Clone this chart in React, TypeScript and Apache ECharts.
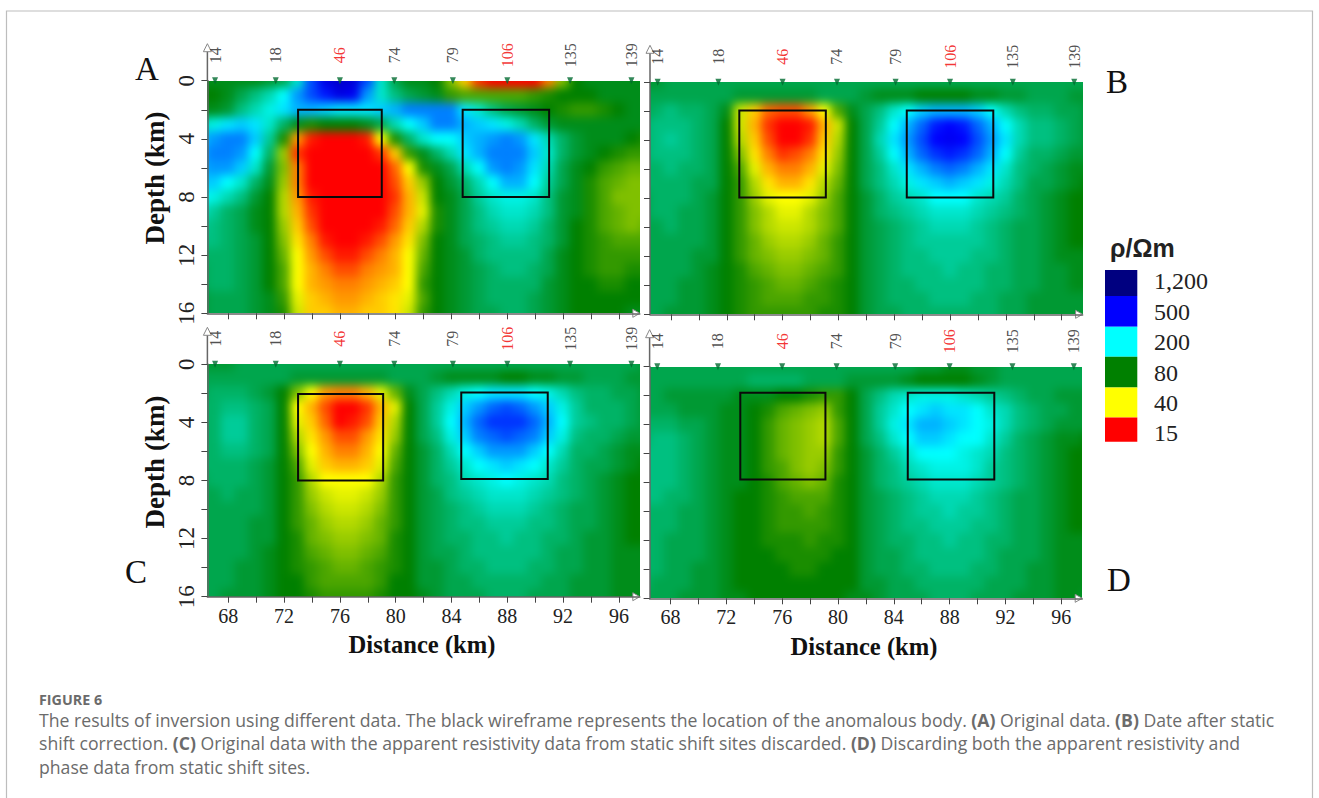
import React, { useEffect, useRef } from "react";
import * as echarts from "echarts";

const distances = [66,67,68,69,70,71,72,73,74,75,76,77,78,79,80,81,82,83,84,85,86,87,88,89,90,91,92,93,94,95,96,97,98];
const depths = [0,1,2,3,4,5,6,7,8,9,10,11,12,13,14,15,16];

// Position on the colour scale x10: 0 = 15, 10 = 40, 20 = 80, 30 = 200, 40 = 500, 50 = 1,200 ohm-m
const fieldA = [
[21,21,21,21,21,22,23,28,37,42,44,43,37,28,23,21,21,20,15,8,2,0,0,0,0,5,15,20,21,21,21,21,21],
[20,20,21,23,25,27,30,34,37,39,42,41,34,28,25,23,22,21,18,17,17,17,17,17,18,19,20,20,20,21,21,21,21],
[21,21,22,25,27,29,31,33,33,32,31,31,31,32,33,35,35,35,35,31,28,25,23,22,21,20,19,18,18,19,20,21,21],
[27,29,31,32,31,28,24,21,19,20,20,20,21,23,27,30,32,35,35,33,32,31,29,27,24,22,21,21,21,21,21,21,21],
[32,34,35,35,32,26,19,6,1,0,0,0,1,10,19,24,28,30,30,32,33,34,35,34,31,27,24,22,21,21,21,20,19],
[33,35,35,34,30,24,14,2,0,0,0,0,0,2,8,18,21,24,27,31,33,35,35,35,32,28,24,22,21,20,19,18,18],
[33,34,34,32,28,22,15,5,0,0,0,0,0,0,4,10,19,21,23,27,30,34,35,34,31,27,23,21,20,18,17,16,16],
[32,32,30,28,24,21,14,5,0,0,0,0,0,0,3,8,14,20,22,24,27,30,33,33,30,26,23,21,19,17,16,15,15],
[30,29,27,25,22,20,13,6,1,0,0,0,0,0,2,7,12,20,21,23,26,28,29,29,28,25,22,21,19,17,15,15,15],
[28,26,24,23,21,20,13,7,2,0,0,0,0,0,3,7,11,19,21,23,25,27,28,28,27,25,22,21,19,17,16,15,15],
[26,25,24,23,21,20,14,8,3,0,0,0,0,1,4,8,13,19,21,23,25,26,27,27,26,24,22,20,19,17,16,15,16],
[25,25,24,23,22,20,15,9,5,1,0,0,1,3,6,9,15,20,21,23,24,25,26,26,25,24,22,20,19,18,17,17,17],
[24,24,24,23,22,20,16,10,6,3,1,1,3,5,7,10,16,20,21,22,24,25,25,25,25,23,21,20,19,18,18,18,18],
[23,24,24,23,22,20,17,10,7,5,3,3,5,6,7,10,17,20,21,22,23,24,25,25,24,23,21,20,19,18,18,19,19],
[23,24,24,23,22,20,17,10,7,6,5,5,6,7,8,10,18,20,21,22,23,24,24,24,24,22,21,20,20,19,19,20,20],
[22,23,23,23,22,21,18,11,8,7,6,6,7,8,9,11,17,20,21,22,23,24,24,24,23,22,21,20,20,20,20,20,20],
[22,23,23,23,22,21,19,12,8,8,7,7,8,8,9,12,18,20,21,22,23,23,24,24,23,22,21,20,20,20,20,21,21],
];
const fieldB = [
[22,22,23,23,23,23,23,23,23,23,23,23,23,23,23,23,23,23,23,23,23,23,23,23,23,23,23,23,23,23,23,23,23],
[23,23,23,23,23,23,23,22,22,22,22,22,22,23,23,23,22,21,21,21,20,20,20,20,21,21,22,22,23,23,23,22,22],
[23,24,25,24,24,23,21,12,8,4,3,3,6,10,17,21,23,25,28,30,32,33,33,33,32,30,27,25,24,24,23,23,22],
[24,25,25,25,24,23,20,12,7,2,0,0,1,7,12,20,23,26,30,33,36,39,40,39,36,33,30,27,25,25,24,23,22],
[24,25,26,25,24,23,20,13,8,3,0,0,2,8,13,20,23,27,31,34,37,40,41,40,37,34,31,27,25,25,24,23,22],
[24,25,25,25,24,23,20,15,9,5,2,3,5,9,14,20,23,26,30,33,36,38,39,38,36,33,30,26,24,24,23,22,22],
[24,24,25,24,24,23,20,17,11,7,5,5,7,11,15,20,23,25,28,31,33,35,36,35,33,31,28,25,24,23,22,21,21],
[24,24,24,24,23,23,20,18,13,9,7,7,9,13,16,20,23,25,27,29,31,32,33,32,31,29,27,25,23,23,22,21,20],
[23,24,24,24,23,22,20,18,14,11,10,10,11,14,17,20,22,24,26,27,28,30,30,30,28,27,26,24,23,22,21,20,20],
[23,24,24,23,23,22,20,18,15,13,11,11,13,15,17,20,22,24,25,26,27,28,28,28,27,26,25,24,23,22,21,20,20],
[23,23,24,23,23,22,20,18,15,13,12,12,13,15,17,20,22,23,24,25,26,27,27,27,26,25,24,23,23,22,21,20,20],
[23,23,23,23,23,22,20,18,16,14,13,13,14,16,18,20,22,23,24,25,26,26,26,26,26,25,24,23,23,22,21,20,20],
[23,23,23,23,22,22,20,18,16,15,14,14,15,16,18,20,22,23,24,25,25,26,26,26,25,25,24,23,23,22,21,21,21],
[23,23,23,23,22,21,20,19,17,16,15,15,16,17,18,20,22,23,24,25,25,25,26,25,25,24,24,23,23,22,22,21,21],
[23,23,23,22,22,21,20,19,18,17,16,16,17,18,19,20,22,23,24,24,25,25,25,25,25,24,24,23,23,22,22,21,21],
[23,23,23,22,22,21,20,19,18,17,17,17,18,18,19,20,22,23,24,24,24,25,25,25,24,24,23,23,22,22,22,22,22],
[23,23,22,22,22,21,20,19,18,18,18,18,18,19,19,20,22,23,23,24,24,24,24,24,24,24,23,23,22,22,22,22,22],
];
const fieldC = [
[22,22,22,23,23,23,23,23,23,23,23,23,23,23,23,23,23,23,23,23,23,23,23,23,23,23,23,23,23,23,23,23,22],
[23,23,23,23,23,23,23,22,22,22,22,22,22,22,23,23,23,22,21,21,21,21,20,20,21,21,22,22,23,23,23,22,22],
[23,24,24,24,23,22,20,15,10,6,5,5,7,11,16,21,23,25,27,29,30,31,31,31,30,29,27,25,24,24,23,23,22],
[24,24,25,25,24,23,20,10,7,3,0,0,2,7,11,20,23,26,29,32,34,36,37,36,34,32,29,26,24,24,24,23,22],
[24,24,26,26,24,23,20,11,8,4,0,1,3,8,13,20,23,26,30,33,36,38,38,38,36,33,30,26,25,24,24,23,22],
[24,24,26,26,24,23,20,13,9,6,3,3,6,9,14,20,23,25,29,32,35,36,37,36,35,32,29,25,24,24,23,22,22],
[24,24,25,25,24,23,20,15,10,7,5,5,7,10,16,20,22,24,27,30,32,34,34,34,32,30,27,24,24,23,22,21,21],
[24,24,24,24,23,22,20,17,11,8,7,7,8,11,17,20,22,24,26,28,30,31,32,31,30,28,26,24,23,23,22,21,20],
[23,24,24,24,23,22,20,18,13,10,10,10,10,13,18,20,22,24,25,27,28,29,30,29,28,27,25,24,23,22,21,20,20],
[23,23,24,23,23,22,20,18,14,12,11,11,12,14,18,20,22,23,25,26,27,28,28,28,27,26,25,24,23,22,21,20,20],
[23,23,23,23,23,22,20,18,15,13,12,12,13,15,18,20,22,23,24,25,26,27,27,27,26,25,24,23,23,22,21,20,20],
[23,23,23,23,22,22,20,18,16,14,13,13,14,16,18,20,22,23,24,25,25,26,26,26,25,25,24,23,23,22,21,20,20],
[23,23,23,23,22,22,20,19,16,15,14,14,15,16,19,20,22,23,24,24,25,25,26,25,25,24,24,23,22,22,21,20,20],
[23,23,23,23,22,21,20,19,17,16,15,15,16,17,19,20,22,23,23,24,25,25,25,25,25,24,23,23,22,22,21,21,21],
[23,23,23,22,22,21,20,19,18,17,16,16,17,18,19,20,22,22,23,24,24,25,25,25,24,24,23,23,22,22,21,21,21],
[23,23,23,22,22,21,20,20,18,17,17,17,17,18,20,20,22,22,23,23,24,24,24,24,24,23,23,22,22,22,21,21,21],
[23,23,22,22,22,21,20,20,19,18,18,18,18,19,20,20,21,22,23,23,23,24,24,24,23,23,23,22,22,22,21,21,21],
];
const fieldD = [
[23,23,23,23,23,23,23,23,23,23,23,23,23,23,23,23,23,23,23,23,22,22,21,21,22,22,23,23,23,23,23,23,23],
[23,23,23,23,23,23,23,23,24,24,24,24,23,23,23,22,22,22,22,21,20,20,20,20,21,22,23,23,23,23,23,23,23],
[23,23,22,22,22,22,22,21,21,21,20,20,19,18,18,20,23,25,27,28,29,29,29,28,27,26,25,24,23,23,22,22,22],
[23,23,23,22,22,22,21,21,20,19,17,16,15,14,18,20,23,26,28,30,31,32,31,31,30,28,27,25,24,23,23,22,22],
[24,24,24,23,23,22,21,21,20,18,16,15,14,13,17,20,23,26,29,31,33,33,32,31,30,29,27,25,24,23,22,22,22],
[24,25,25,24,23,22,21,21,20,18,16,15,14,13,17,20,23,25,28,30,32,32,31,30,30,28,26,24,23,22,21,21,20],
[25,25,25,24,23,22,21,21,20,18,16,15,14,14,18,20,22,24,26,28,30,30,30,29,28,27,25,24,23,22,21,20,20],
[25,25,25,24,23,22,21,21,20,18,17,15,14,15,18,20,22,24,25,27,28,29,29,29,28,26,25,24,23,22,21,20,20],
[25,25,25,24,23,22,21,21,20,19,17,16,15,16,19,20,22,24,25,26,27,28,28,28,27,26,25,24,23,22,21,20,20],
[25,25,24,24,23,22,21,20,20,19,18,17,17,17,19,20,22,23,24,25,26,27,27,27,26,25,24,23,23,22,21,20,20],
[24,24,24,23,23,22,21,20,20,19,18,18,17,18,19,20,22,23,24,25,26,26,27,26,26,25,24,23,23,22,21,20,20],
[24,24,24,23,23,22,21,20,20,19,18,18,18,18,19,20,22,23,24,25,25,26,26,26,25,25,24,23,23,22,21,20,20],
[24,24,23,23,23,22,21,20,20,19,19,19,18,19,19,20,22,23,24,24,25,25,26,25,25,24,24,23,23,22,21,21,21],
[24,24,23,23,23,22,21,20,20,20,19,19,19,19,20,20,22,23,23,24,25,25,25,25,25,24,23,23,23,22,21,21,21],
[24,24,23,23,22,22,21,20,20,20,20,19,19,20,20,20,22,23,23,24,24,25,25,25,24,24,23,23,22,22,21,21,21],
[24,23,23,23,22,22,21,20,20,20,20,20,20,20,20,20,22,22,23,23,24,24,24,24,24,23,23,23,22,22,21,21,21],
[23,23,23,22,22,22,21,21,20,20,20,20,20,20,20,21,21,22,23,23,23,24,24,24,23,23,23,22,22,22,21,21,22],
];

const stationKm = [67.05,71.4,76,79.9,84.1,88,92.5,96.9];
const stationNames = ["14","18","46","74","79","106","135","139"];
const redStations = ["46","106"];
const xTickValues = [68,70,72,74,76,78,80,82,84,86,88,90,92,94,96];
const xLabelValues = [68,72,76,80,84,88,92,96];
const yTickValues = [0,2,4,6,8,10,12,14,16];
const yLabelValues = [0,4,8,12,16];
const boxesA = [[73,79,2,8],[84.8,91,2,8]];
const boxesB = [[72.9,79.1,1.95,7.95],[84.9,91.1,1.95,7.95]];
const boxesC = [[73,79.1,2.05,8],[84.7,90.9,1.95,7.9]];
const boxesD = [[73,79.1,1.8,7.8],[85,91.2,1.8,7.8]];
const legendLabels = ["1,200","500","200","80","40","15"];
const legendColors = ["#000080","#0000ff","#00ffff","#008000","#ffff00","#ff0000"];
const scaleColors = ["#ff0000","#ffff00","#008000","#00ffff","#0000ff","#000080"];
const captionLines = [
  "The results of inversion using different data. The black wireframe represents the location of the anomalous body. {b|(A)} Original data. {b|(B)} Date after static",
  "shift correction. {b|(C)} Original data with the apparent resistivity data from static shift sites discarded. {b|(D)} Discarding both the apparent resistivity and",
  "phase data from static shift sites.",
];

const SERIF = "'Liberation Serif', serif";
const panels = [
  { letter: "A", lx: 147, ly: 69, left: 207.4, top: 80.7, w: 432.4, h: 232.6, field: fieldA, boxes: boxesA, labels: false, yl: true },
  { letter: "B", lx: 1117, ly: 82, left: 650, top: 82.3, w: 432.6, h: 232, field: fieldB, boxes: boxesB, labels: false, yl: false },
  { letter: "C", lx: 136, ly: 572, left: 207.4, top: 364.3, w: 432.4, h: 232.4, field: fieldC, boxes: boxesC, labels: true, yl: true },
  { letter: "D", lx: 1119, ly: 580, left: 649.6, top: 366.7, w: 432.6, h: 231.6, field: fieldD, boxes: boxesD, labels: true, yl: false },
];
const MARGIN = 18;
const AXIS = "#666";

function fieldOption(p: any) {
  const data: number[][] = [];
  p.field.forEach((row: number[], r: number) =>
    row.forEach((v: number, c: number) => data.push([distances[c], depths[r], v])));
  return {
    animation: false,
    grid: { left: MARGIN, top: MARGIN, width: p.w, height: p.h },
    xAxis: { type: "value", min: 66.5, max: 97.5, show: false },
    yAxis: { type: "value", min: 0, max: 16, inverse: true, show: false },
    visualMap: { show: false, type: "continuous", min: 0, max: 50, dimension: 2, seriesIndex: 0, inRange: { color: scaleColors } },
    series: [{
      type: "custom",
      clip: false,
      data,
      encode: { x: 0, y: 1 },
      renderItem: (_: any, api: any) => {
        const x = api.value(0), z = api.value(1);
        const a = api.coord([x - 0.5, z === 0 ? z - 2 : z - 0.5]);
        const b = api.coord([x + 0.5, z === 16 ? z + 2 : z + 0.5]);
        return { type: "rect", shape: { x: a[0] - 0.4, y: a[1] - 0.4, width: b[0] - a[0] + 0.8, height: b[1] - a[1] + 0.8 }, style: { fill: api.visual("color") } };
      },
    }],
  };
}

function mainOption() {
  const grids: any[] = [], xAxes: any[] = [], yAxes: any[] = [], series: any[] = [], graphic: any[] = [];
  panels.forEach((p, i) => {
    grids.push({ left: p.left, top: p.top, width: p.w, height: p.h });
    xAxes.push({
      type: "value", gridIndex: i, min: 66.5, max: 97.5, splitLine: { show: false },
      axisLine: { show: true, onZero: false, lineStyle: { color: AXIS, width: 1.5 } },
      axisTick: { show: true, length: 6, customValues: xTickValues, lineStyle: { color: "#444" } },
      axisLabel: p.labels
        ? { show: true, customValues: xLabelValues, fontFamily: SERIF, fontSize: 20, color: "#222", margin: 9 }
        : { show: false },
    });
    yAxes.push({
      type: "value", gridIndex: i, min: 0, max: 16, inverse: true, splitLine: { show: false },
      axisLine: { show: true, onZero: false, lineStyle: { color: AXIS, width: 1.5 } },
      axisTick: { show: true, length: 6, customValues: yTickValues, lineStyle: { color: "#444" } },
      axisLabel: p.yl
        ? { show: true, customValues: yLabelValues, rotate: 90, fontFamily: SERIF, fontSize: 23, color: "#222", margin: 9 }
        : { show: false },
    });
    series.push({
      type: "scatter", xAxisIndex: i, yAxisIndex: i, clip: false, symbol: "triangle", symbolRotate: 180, symbolSize: [6, 7],
      itemStyle: { color: "#006a30" },
      data: stationKm.map((km, k) => ({
        value: [km, 0],
        label: {
          show: true, formatter: stationNames[k], position: "top", distance: 22, rotate: 90,
          align: "center", verticalAlign: "middle", fontFamily: SERIF, fontSize: 16,
          color: redStations.includes(stationNames[k]) ? "#f00000" : "#222",
        },
      })),
    });
    series.push({
      type: "custom", xAxisIndex: i, yAxisIndex: i, clip: false, data: p.boxes,
      encode: { x: [0, 1], y: [2, 3] },
      renderItem: (_: any, api: any) => {
        const a = api.coord([api.value(0), api.value(2)]);
        const b = api.coord([api.value(1), api.value(3)]);
        return { type: "rect", shape: { x: a[0], y: a[1], width: b[0] - a[0], height: b[1] - a[1] }, style: { fill: "none", stroke: "#0a0a0a", lineWidth: 2 } };
      },
    });
    // axis arrows
    const L = p.left, T = p.top, B = p.top + p.h, R = p.left + p.w;
    graphic.push({ type: "line", shape: { x1: L, y1: T, x2: L, y2: T - 30 }, style: { stroke: AXIS, lineWidth: 1.5 } });
    graphic.push({ type: "polygon", shape: { points: [[L, T - 37], [L - 4, T - 29], [L + 4, T - 29]] }, style: { fill: "#fff", stroke: "#888", lineWidth: 1 } });
    graphic.push({ type: "polygon", shape: { points: [[R, B], [R - 7, B - 4], [R - 7, B + 4]] }, style: { fill: "#fff", stroke: "#888", lineWidth: 1 } });
    graphic.push({ type: "text", x: p.lx, y: p.ly, style: { text: p.letter, fontFamily: SERIF, fontSize: 33, fill: "#111", align: "center", verticalAlign: "middle" } });
  });

  const title = (text: string, x: number, y: number, rot: boolean) => ({
    type: "text", x, y, rotation: rot ? Math.PI / 2 : 0,
    style: { text, fontFamily: SERIF, fontWeight: "bold", fontSize: rot ? 27 : 24.6, fill: "#111", align: "center", verticalAlign: "middle" },
  });
  graphic.push(title("Depth (km)", 155, 178, true), title("Depth (km)", 155, 462, true));
  graphic.push(title("Distance (km)", 422, 644, false), title("Distance (km)", 864, 646, false));

  const legendEdges = [270, 296, 326.7, 356.7, 387.5, 417.4, 441.7];
  const legendCenters = [281, 312, 342, 373, 403, 433];
  legendColors.forEach((c, i) => {
    graphic.push({ type: "rect", shape: { x: 1105, y: legendEdges[i], width: 32.3, height: legendEdges[i + 1] - legendEdges[i] }, style: { fill: c } });
    graphic.push({ type: "text", x: 1154, y: legendCenters[i], style: { text: legendLabels[i], fontFamily: SERIF, fontSize: 24, fill: "#222", align: "left", verticalAlign: "middle" } });
  });
  graphic.push({ type: "text", x: 1110, y: 248, style: { text: "ρ/Ωm", fontFamily: "'Liberation Sans', sans-serif", fontWeight: "bold", fontSize: 25, fill: "#222", align: "left", verticalAlign: "middle" } });

  // page frame and caption
  const frame = "#bdbdbd";
  graphic.push({ type: "polyline", shape: { points: [[6.5, 798], [6.5, 11], [1312.5, 11], [1312.5, 798]] }, style: { stroke: frame, fill: "none", lineWidth: 1.2 } });
  const CAP = "'Open Sans', sans-serif";
  graphic.push({ type: "text", x: 39, y: 699.5, style: { text: "FIGURE 6", fontFamily: CAP, fontWeight: "bold", fontSize: 14.3, fill: "#6b6b6b", align: "left", verticalAlign: "middle" } });
  const capY = [720, 743, 767];
  captionLines.forEach((t, i) => {
    graphic.push({
      type: "text", x: 39, y: capY[i],
      style: {
        text: t, fontFamily: CAP, fontSize: 17.65, fill: "#6b6b6b", align: "left", verticalAlign: "middle",
        rich: { b: { fontFamily: CAP, fontSize: 17.65, fontWeight: "bold", fill: "#6b6b6b" } },
      },
    });
  });

  return { animation: false, grid: grids, xAxis: xAxes, yAxis: yAxes, series, graphic };
}

export default function App() {
  const mainRef = useRef<HTMLDivElement>(null);
  const fieldRefs = useRef<(HTMLDivElement | null)[]>([]);
  useEffect(() => {
    const charts = panels.map((p, i) => {
      const c = echarts.init(fieldRefs.current[i] as HTMLDivElement, undefined, { renderer: "svg" });
      c.setOption(fieldOption(p));
      return c;
    });
    const main = echarts.init(mainRef.current as HTMLDivElement, undefined, { renderer: "svg" });
    main.setOption(mainOption());
    charts.push(main);
    return () => charts.forEach((c) => c.dispose());
  }, []);
  return (
    <div style={{ position: "absolute", left: 0, top: 0, width: 1319, height: 798, background: "#fff", overflow: "hidden" }}>
      {panels.map((p, i) => (
        <div key={p.letter} style={{ position: "absolute", left: p.left, top: p.top, width: p.w, height: p.h, overflow: "hidden" }}>
          <div
            ref={(el) => { fieldRefs.current[i] = el; }}
            style={{ position: "absolute", left: -MARGIN, top: -MARGIN, width: p.w + 2 * MARGIN, height: p.h + 2 * MARGIN, filter: "blur(5px)" }}
          />
        </div>
      ))}
      <div ref={mainRef} style={{ position: "absolute", left: 0, top: 0, width: 1319, height: 798 }} />
    </div>
  );
}
